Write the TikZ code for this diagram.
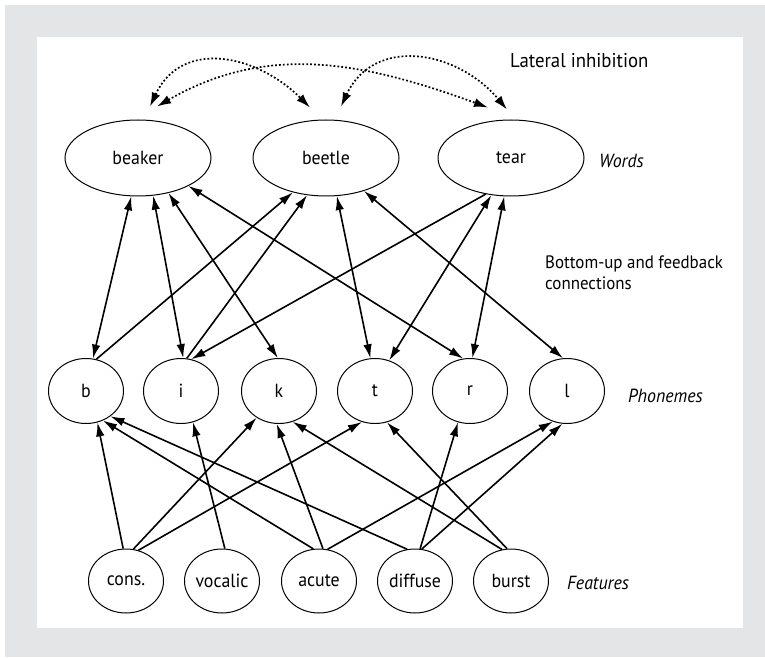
\documentclass[tikz,border=0pt]{standalone}
\usepackage{fontspec}
\setmainfont{PT Sans}[FakeStretch=0.94]
\usetikzlibrary{arrows.meta,shapes.geometric}
\definecolor{panelgray}{RGB}{228,229,231}
\tikzset{
	word/.style={draw, ellipse, line width=1pt, minimum width=146pt, minimum height=76pt, inner sep=0pt},
	unit/.style={draw, ellipse, line width=1pt, minimum width=75pt, minimum height=65pt, inner sep=0pt},
	feat/.style={unit, minimum height=64pt},
	layer/.style={font=\fontsize{19}{23}\selectfont\itshape, anchor=west, inner sep=0pt},
	link/.style={line width=1.6pt, -{Latex[length=14pt,width=8.5pt]}},
	twoway/.style={line width=1.6pt, {Latex[length=14pt,width=8.5pt]}-{Latex[length=14pt,width=8.5pt]}},
	inhib/.style={line width=1.7pt, dash pattern=on 1.8pt off 2.1pt,
			{Latex[length=14pt,width=9pt]}-{Latex[length=14pt,width=9pt]}}
}

\begin{document}
\begin{tikzpicture}[x=1pt, y=1pt, font=\fontsize{19}{23}\selectfont]

			\useasboundingbox (0,0) rectangle (765,657);

			% Draw the panel
			\fill[panelgray] (5,0) rectangle (765,652);
			\fill[white] (37,29) rectangle (743,620);

			% Words
			\node[word] (beaker) at (138,499) {beaker};
			\node[word] (beetle) at (326,499) {beetle};
			\node[word] (tear) at (511,499) {tear};

			% Phonemes
			\node[unit] (b) at (86,266) {b};
			\node[unit] (i) at (181,266) {i};
			\node[unit] (k) at (279,266) {k};
			\node[unit] (t) at (375,266) {t};
			\node[unit] (r) at (470,266) {r};
			\node[unit] (l) at (567,266) {l};

			% Features
			\node[feat] (cons) at (126,76) {cons.};
			\node[feat] (vocalic) at (222,76) {vocalic};
			\node[feat] (acute) at (319,76) {acute};
			\node[feat] (diffuse) at (415,76) {diffuse};
			\node[feat] (burst) at (511,76) {burst};

			% Labels
			\node[anchor=west, inner sep=0pt, font=\fontsize{20}{23}\selectfont] (lateral) at (510,596) {Lateral inhibition};
			\node[layer] (wordlab) at (599,496) {Words};
			\node[anchor=west, align=left, inner sep=0pt, font=\fontsize{18}{21}\selectfont] (bottomup) at (545,384) {Bottom-up and feedback\\connections};
			\node[layer] (phonlab) at (628,261) {Phonemes};
			\node[layer] (featlab) at (567,74) {Features};

			% Draw the lateral inhibition
			\draw[inhib] ([shift={(12,13)}]beaker.north) to[out=65,in=135,looseness=1.2] ([shift={(-16,12)}]beetle.north);
			\draw[inhib] ([shift={(15,13)}]beetle.north) to[out=65,in=130,looseness=1.2] ([shift={(-4,10)}]tear.north);
			\draw[inhib] ([shift={(19,13)}]beaker.north) to[out=30,in=160] ([shift={(-23,12)}]tear.north);

			% Draw the word-phoneme connections
			\draw[twoway] (beaker.-100) -- (b.78);
			\draw[twoway] (beaker.-68) -- (i.86);
			\draw[twoway] (beaker.-49) -- (k.92);
			\draw[twoway] (beaker.-29) -- (r.102);
			\draw[link] (b.72) -- (beetle.-134);
			\draw[link] (i.80) -- (beetle.-117);
			\draw[twoway] (beetle.-74) -- (t.98);
			\draw[twoway] (beetle.-41) -- (l.97);
			\draw[link] (tear.-125) -- (i.72);
			\draw[twoway] (tear.-118) -- (t.65);
			\draw[twoway] (tear.-100) -- (r.86);

			% Draw the feature-phoneme connections
			\draw[link] (cons.95) -- (b.-70);
			\draw[link] (cons.77) -- (k.-130);
			\draw[link] (cons.68) -- (t.-113);
			\draw[link] (vocalic.85) -- (i.-69);
			\draw[link] (acute.100) -- (b.-60);
			\draw[link] (acute.83) -- (k.-94);
			\draw[link] (acute.75) -- (l.-115);
			\draw[link] (diffuse.104) -- (b.-46);
			\draw[link] (diffuse.81) -- (r.-111);
			\draw[link] (diffuse.78) -- (l.-98);
			\draw[link] (burst.106) -- (k.-66);
			\draw[link] (burst.97) -- (t.-69);

		\end{tikzpicture}
\end{document}
